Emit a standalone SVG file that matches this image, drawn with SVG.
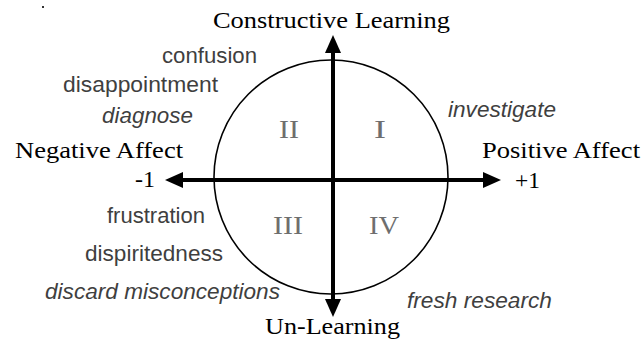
<svg xmlns="http://www.w3.org/2000/svg" width="644" height="342" viewBox="0 0 644 342">
  <style>
    .serif { font-family: "Liberation Serif", "Times New Roman", serif; font-size: 24px; fill: #000; }
    .num { font-family: "Liberation Serif", "Times New Roman", serif; font-size: 26px; fill: #6e6e6e; }
    .sans { font-family: "Liberation Sans", Arial, sans-serif; font-size: 22px; fill: #3f3f3f; }
    .it { font-style: italic; }
    .axis { stroke: #000; stroke-width: 4; fill: none; }
    .circ { stroke: #000; stroke-width: 1.6; fill: none; }
  </style>
  <defs>
    <marker id="head" markerUnits="userSpaceOnUse" markerWidth="18" markerHeight="16" refX="0" refY="8" orient="auto-start-reverse" viewBox="0 0 18 16">
      <path d="M0,0 L18,8 L0,16 Z" fill="#000"/>
    </marker>
  </defs>
  <rect width="644" height="342" fill="#fff"/>
  <rect x="42" y="6" width="2" height="2" fill="#333"/>

  <g id="circle-node">
    <circle class="circ" cx="331" cy="177" r="117"/>
  </g>

  <g id="connectors">
    <line class="axis" x1="183" y1="180" x2="483" y2="180" marker-start="url(#head)" marker-end="url(#head)"/>
    <line class="axis" x1="333" y1="53" x2="333" y2="299" marker-start="url(#head)" marker-end="url(#head)"/>
  </g>

  <g id="label-constructive"><text class="serif" x="213" y="28" textLength="237" lengthAdjust="spacingAndGlyphs">Constructive Learning</text></g>
  <g id="label-unlearning"><text class="serif" x="265" y="334" textLength="135" lengthAdjust="spacingAndGlyphs">Un-Learning</text></g>
  <g id="label-negative"><text class="serif" x="15" y="158" textLength="168" lengthAdjust="spacingAndGlyphs">Negative Affect</text>
    <text class="serif" x="135" y="187" textLength="20" lengthAdjust="spacingAndGlyphs">-1</text></g>
  <g id="label-positive"><text class="serif" x="482" y="158" textLength="158" lengthAdjust="spacingAndGlyphs">Positive Affect</text>
    <text class="serif" x="515" y="188" textLength="25" lengthAdjust="spacingAndGlyphs">+1</text></g>

  <g id="quadrant-I"><text class="num" x="374" y="138" textLength="12" lengthAdjust="spacingAndGlyphs">I</text></g>
  <g id="quadrant-II"><text class="num" x="279" y="138" textLength="20" lengthAdjust="spacingAndGlyphs">II</text></g>
  <g id="quadrant-III"><text class="num" x="273" y="234" textLength="30" lengthAdjust="spacingAndGlyphs">III</text></g>
  <g id="quadrant-IV"><text class="num" x="369" y="234" textLength="30" lengthAdjust="spacingAndGlyphs">IV</text></g>

  <g id="words-II">
    <text class="sans" x="162" y="63" textLength="95" lengthAdjust="spacingAndGlyphs">confusion</text>
    <text class="sans" x="63" y="92" textLength="155" lengthAdjust="spacingAndGlyphs">disappointment</text>
    <text class="sans it" x="102" y="123" textLength="91" lengthAdjust="spacingAndGlyphs">diagnose</text>
  </g>
  <g id="words-I">
    <text class="sans it" x="448" y="117" textLength="108" lengthAdjust="spacingAndGlyphs">investigate</text>
  </g>
  <g id="words-III">
    <text class="sans" x="107" y="223" textLength="98" lengthAdjust="spacingAndGlyphs">frustration</text>
    <text class="sans" x="85" y="261" textLength="138" lengthAdjust="spacingAndGlyphs">dispiritedness</text>
    <text class="sans it" x="45" y="299" textLength="235" lengthAdjust="spacingAndGlyphs">discard misconceptions</text>
  </g>
  <g id="words-IV">
    <text class="sans it" x="407" y="308" textLength="145" lengthAdjust="spacingAndGlyphs">fresh research</text>
  </g>
</svg>
